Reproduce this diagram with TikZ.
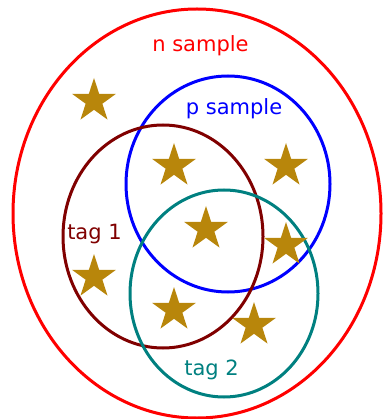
\documentclass[tikz,border=0pt]{standalone}
\usepackage{fontspec}
\setmainfont{DejaVu Sans}
\definecolor{starc}{RGB}{184,134,11}
\definecolor{maroonc}{RGB}{128,0,0}
\definecolor{tealc}{RGB}{0,128,128}
\tikzset{
  ring/.style={line width=3pt},
  lbl/.style={anchor=base, inner sep=0pt, font=\fontsize{21}{25}\selectfont},
}
\begin{document}
\begin{tikzpicture}[x=1pt,y=-1pt]
\useasboundingbox (0,0) rectangle (382,419);
% sets
\draw[ring, red] (197,213.5) ellipse [x radius=184, y radius=204.5];
\draw[ring, blue] (228,184) ellipse [x radius=102, y radius=108];
\draw[ring, maroonc] (163,236.5) ellipse [x radius=100, y radius=111.5];
\draw[ring, tealc] (224,293.5) ellipse [x radius=94, y radius=103.5];
% stars
\foreach \cx/\cy in {94/101, 174/166, 286/166, 206/229, 286/245, 94/277, 174/310, 254/325}{
  \fill[starc] (\cx,\cy) +(-90:23) -- +(-54:8.8) -- +(-18:23) -- +(18:8.8) -- +(54:23)
     -- +(90:8.8) -- +(126:23) -- +(162:8.8) -- +(198:23) -- +(234:8.8) -- cycle;
}
% labels
\node[lbl, red] (n) at (200.5,52) {n sample};
\node[lbl, blue] (p) at (234,115) {p sample};
\node[lbl, maroonc] (t1) at (94.5,239) {tag 1};
\node[lbl, tealc] (t2) at (211.5,375) {tag 2};
\end{tikzpicture}
\end{document}
